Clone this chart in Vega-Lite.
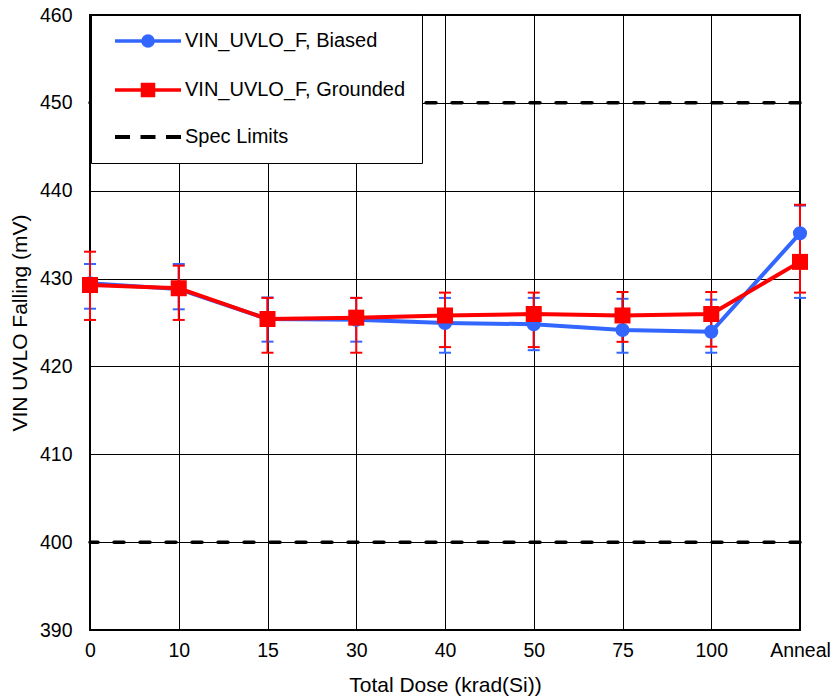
{
  "$schema": "https://vega.github.io/schema/vega-lite/v6.json",
  "width": 710,
  "height": 615,
  "autosize": {"type": "none"},
  "padding": {"left": 90, "top": 15, "right": 33, "bottom": 68},
  "background": "white",
  "config": {
    "font": "Liberation Sans",
    "view": {"stroke": "black", "strokeWidth": 2},
    "axis": {
      "labelFont": "Liberation Sans",
      "titleFont": "Liberation Sans",
      "labelFontSize": 19.5,
      "titleFontSize": 21,
      "titleFontWeight": "normal",
      "labelColor": "black",
      "titleColor": "black",
      "grid": true,
      "gridColor": "black",
      "gridOpacity": 1,
      "gridWidth": 1,
      "ticks": false,
      "domain": false
    }
  },
  "datasets": {
    "main": [
      {"dose": "0", "series": "VIN_UVLO_F, Biased", "value": 429.46, "lo": 426.57, "hi": 431.66},
      {"dose": "10", "series": "VIN_UVLO_F, Biased", "value": 428.8, "lo": 426.5, "hi": 431.66},
      {"dose": "15", "series": "VIN_UVLO_F, Biased", "value": 425.4, "lo": 422.82, "hi": 427.85},
      {"dose": "30", "series": "VIN_UVLO_F, Biased", "value": 425.3, "lo": 422.82, "hi": 427.8},
      {"dose": "40", "series": "VIN_UVLO_F, Biased", "value": 424.95, "lo": 421.56, "hi": 427.8},
      {"dose": "50", "series": "VIN_UVLO_F, Biased", "value": 424.8, "lo": 421.85, "hi": 427.8},
      {"dose": "75", "series": "VIN_UVLO_F, Biased", "value": 424.15, "lo": 421.56, "hi": 427.7},
      {"dose": "100", "series": "VIN_UVLO_F, Biased", "value": 423.95, "lo": 421.56, "hi": 427.6},
      {"dose": "Anneal", "series": "VIN_UVLO_F, Biased", "value": 435.15, "lo": 427.8, "hi": 438.3},
      {"dose": "0", "series": "VIN_UVLO_F, Grounded", "value": 429.27, "lo": 425.29, "hi": 433.06},
      {"dose": "10", "series": "VIN_UVLO_F, Grounded", "value": 428.9, "lo": 425.29, "hi": 431.47},
      {"dose": "15", "series": "VIN_UVLO_F, Grounded", "value": 425.4, "lo": 421.56, "hi": 427.8},
      {"dose": "30", "series": "VIN_UVLO_F, Grounded", "value": 425.55, "lo": 421.56, "hi": 427.8},
      {"dose": "40", "series": "VIN_UVLO_F, Grounded", "value": 425.8, "lo": 422.2, "hi": 428.4},
      {"dose": "50", "series": "VIN_UVLO_F, Grounded", "value": 425.97, "lo": 422.2, "hi": 428.4},
      {"dose": "75", "series": "VIN_UVLO_F, Grounded", "value": 425.8, "lo": 422.8, "hi": 428.47},
      {"dose": "100", "series": "VIN_UVLO_F, Grounded", "value": 425.97, "lo": 422.25, "hi": 428.47},
      {"dose": "Anneal", "series": "VIN_UVLO_F, Grounded", "value": 431.9, "lo": 428.4, "hi": 438.4}
    ],
    "spec": [
      {"series": "Spec Limits", "value": 400},
      {"series": "Spec Limits", "value": 450}
    ]
  },
  "encoding": {
    "x": {
      "field": "dose",
      "type": "nominal",
      "sort": ["0", "10", "15", "30", "40", "50", "75", "100", "Anneal"],
      "scale": {"type": "point", "padding": 0},
      "axis": {"title": "Total Dose (krad(Si))", "labelAngle": 0, "labelPadding": 11, "titlePadding": 15}
    },
    "y": {
      "type": "quantitative",
      "scale": {"domain": [390, 460], "nice": false, "zero": false},
      "axis": {"title": "VIN UVLO Falling (mV)", "values": [390, 400, 410, 420, 430, 440, 450, 460], "labelPadding": 18, "titlePadding": 9}
    },
    "color": {
      "field": "series",
      "type": "nominal",
      "scale": {
        "domain": ["VIN_UVLO_F, Biased", "VIN_UVLO_F, Grounded", "Spec Limits"],
        "range": ["#3366ff", "#ff0000", "#000000"]
      },
      "legend": {
        "title": null,
        "orient": "none",
        "legendX": 1,
        "legendY": 0,
        "padding": 16,
        "strokeColor": "black",
        "fillColor": "white",
        "labelFont": "Liberation Sans",
        "labelFontSize": 20,
        "labelColor": "black",
        "symbolSize": 100,
        "symbolOffset": 31,
        "labelOffset": 27,
        "rowPadding": 24,
        "labelLimit": 400,
        "encode": {
          "symbols": {
            "update": {
              "shape": {"signal": "datum.value === 'Spec Limits' ? 'M-6.6,0H-3.6M-1.5,0H1.5M3.6,0H6.6' : (datum.value === 'VIN_UVLO_F, Grounded' ? 'M-6.6,0H6.6M-1.1,-1.1H1.1V1.1H-1.1Z' : 'M-6.6,0H6.6M1,0A1,1,0,1,1,-1,0A1,1,0,1,1,1,0Z')"},
              "fill": {"signal": "datum.value === 'Spec Limits' ? 'transparent' : (datum.value === 'VIN_UVLO_F, Grounded' ? '#ff0000' : '#3366ff')"},
              "stroke": {"signal": "datum.value === 'Spec Limits' ? '#000000' : (datum.value === 'VIN_UVLO_F, Grounded' ? '#ff0000' : '#3366ff')"},
              "strokeWidth": {"signal": "datum.value === 'Spec Limits' ? 4 : 3.5"},
              "strokeDash": {"value": []},
              "size": {"value": 100},
              "opacity": {"value": 1},
              "fillOpacity": {"value": 1},
              "strokeOpacity": {"value": 1}
            }
          }
        }
      }
    }
  },
  "layer": [
    {
      "data": {"name": "spec"},
      "mark": {"type": "rule", "strokeWidth": 3.5, "strokeDash": [10, 16], "strokeCap": "round"},
      "encoding": {
        "x": null,
        "y": {"field": "value", "type": "quantitative"}
      }
    },
    {
      "data": {"name": "main"},
      "transform": [{"filter": "datum.series === 'VIN_UVLO_F, Biased'"}],
      "layer": [
        {"mark": {"type": "rule", "strokeWidth": 2}, "encoding": {"y": {"field": "lo", "type": "quantitative"}, "y2": {"field": "hi"}}},
        {"mark": {"type": "tick", "size": 12, "thickness": 2, "opacity": 1}, "encoding": {"y": {"field": "lo", "type": "quantitative"}}},
        {"mark": {"type": "tick", "size": 12, "thickness": 2, "opacity": 1}, "encoding": {"y": {"field": "hi", "type": "quantitative"}}}
      ]
    },
    {
      "data": {"name": "main"},
      "transform": [{"filter": "datum.series === 'VIN_UVLO_F, Grounded'"}],
      "layer": [
        {"mark": {"type": "rule", "strokeWidth": 2}, "encoding": {"y": {"field": "lo", "type": "quantitative"}, "y2": {"field": "hi"}}},
        {"mark": {"type": "tick", "size": 12, "thickness": 2, "opacity": 1}, "encoding": {"y": {"field": "lo", "type": "quantitative"}}},
        {"mark": {"type": "tick", "size": 12, "thickness": 2, "opacity": 1}, "encoding": {"y": {"field": "hi", "type": "quantitative"}}}
      ]
    },
    {
      "data": {"name": "main"},
      "transform": [{"filter": "datum.series === 'VIN_UVLO_F, Biased'"}],
      "layer": [
        {"mark": {"type": "line", "strokeWidth": 4}, "encoding": {"y": {"field": "value", "type": "quantitative"}}},
        {"mark": {"type": "point", "shape": "circle", "filled": true, "size": 200, "opacity": 1}, "encoding": {"y": {"field": "value", "type": "quantitative"}}}
      ]
    },
    {
      "data": {"name": "main"},
      "transform": [{"filter": "datum.series === 'VIN_UVLO_F, Grounded'"}],
      "layer": [
        {"mark": {"type": "line", "strokeWidth": 4}, "encoding": {"y": {"field": "value", "type": "quantitative"}}},
        {"mark": {"type": "point", "shape": "square", "filled": true, "size": 256, "opacity": 1}, "encoding": {"y": {"field": "value", "type": "quantitative"}}}
      ]
    }
  ]
}
